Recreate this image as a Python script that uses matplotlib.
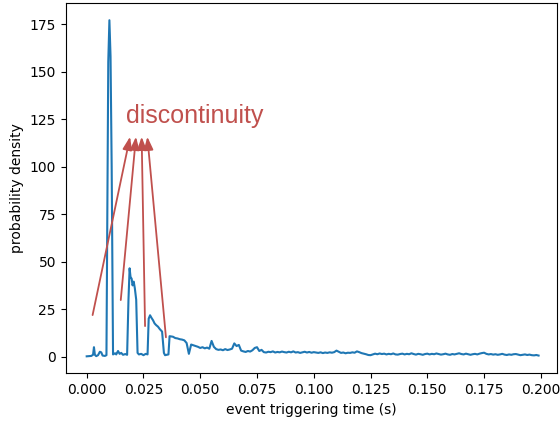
"""
Probability density of the event triggering time, with the discontinuities marked.
Output: out.png (560x423)
"""
import numpy as np
import matplotlib

matplotlib.use("Agg")
import matplotlib.pyplot as plt  # noqa: E402

# head of the curve: spike, three plateaus, gaps between them
head_t = [0.0000, 0.0010, 0.0020, 0.0028, 0.0032, 0.0036, 0.0042, 0.0050, 0.0058,
          0.0064, 0.0070, 0.0080, 0.0087, 0.0092, 0.0095, 0.0100, 0.0105, 0.0110,
          0.0116, 0.0125, 0.0130, 0.0138, 0.0145, 0.0152, 0.0160, 0.0170, 0.0178,
          0.0184, 0.0189, 0.0193, 0.0198, 0.0202, 0.0207, 0.0212, 0.0218, 0.0224,
          0.0230, 0.0240, 0.0250, 0.0260, 0.0268, 0.0273, 0.0279, 0.0285, 0.0292,
          0.0299, 0.0306, 0.0314, 0.0322, 0.0332, 0.0340, 0.0345, 0.0352, 0.0360,
          0.0365]
head_p = [0.2, 0.3, 0.4, 1.0, 5.0, 1.0, 0.3, 0.8, 2.6,
          2.3, 0.6, 0.4, 0.8, 100, 155, 177, 158, 100,
          1.2, 1.8, 1.2, 3.0, 1.5, 2.0, 1.0, 1.4, 1.0,
          30, 46.5, 42, 41, 37.5, 39.5, 36, 30, 2.0,
          1.2, 1.5, 0.8, 1.5, 1.2, 20, 21.8, 20.5, 19.2,
          17.5, 16.6, 15.8, 14.5, 13.2, 2.0, 0.8, 1.0, 1.2,
          10.8]

# tail of the curve, one value per ms from 37 ms to 199 ms
tail_t0, tail_dt = 0.037, 0.001
tail_p = [10.8, 10.5, 9.8, 9.6, 9.2, 9.0, 8.6, 7.2, 1.5, 6.4,
          6.0, 5.6, 5.2, 4.6, 5.0, 4.4, 4.8, 4.2, 8.3, 5.2,
          4.0, 3.6, 3.8, 3.4, 4.0, 3.5, 3.8, 4.2, 7.0, 5.6,
          6.2, 3.2, 2.8, 2.5, 3.0, 2.7, 3.4, 4.6, 5.0, 3.0,
          3.6, 2.4, 2.2, 2.6, 2.4, 2.8, 2.2, 2.5, 2.3, 2.7,
          2.4, 2.2, 2.6, 2.3, 2.8, 2.2, 2.4, 2.0, 2.3, 2.6,
          2.2, 2.5, 2.1, 2.4, 2.2, 2.0, 2.3, 1.9, 2.2, 2.0,
          2.3, 2.1, 2.4, 3.2, 2.6, 2.0, 2.2, 1.8, 2.1, 2.0,
          2.3, 2.1, 2.8, 2.4, 1.9, 1.6, 1.3, 0.9, 0.8, 1.2,
          1.6, 1.3, 1.7, 1.4, 1.6, 1.2, 1.5, 1.3, 1.7, 1.2,
          1.1, 1.4, 1.6, 1.2, 1.5, 1.3, 1.8, 1.4, 1.1, 1.5,
          1.3, 1.0, 1.4, 1.6, 1.2, 1.5, 1.3, 1.7, 1.4, 1.1,
          1.3, 1.6, 1.2, 1.0, 1.4, 1.2, 1.5, 1.8, 1.4, 1.2,
          1.6, 1.3, 1.0, 1.3, 1.5, 1.2, 1.6, 1.9, 2.1, 1.5,
          1.2, 1.4, 1.1, 1.3, 1.0, 1.2, 1.5, 1.1, 0.9, 1.2,
          1.0, 1.3, 1.4, 1.1, 0.8, 1.0, 1.2, 0.9, 1.1, 0.8,
          0.7, 0.9, 0.6]

# annotation: label position, arrow tails (on the curve) and tips (under the label)
LABEL = "discontinuity"
label_xy = (0.0173, 122.8)
arrow_tails = [(0.0026, 21.9), (0.0150, 29.8), (0.0257, 16.1), (0.0349, 10.2)]
arrow_tips = [(0.0191, 115.7), (0.0217, 115.7), (0.0242, 115.7), (0.0267, 115.7)]

ANNOT_COLOR = "#c0504d"


def main():
    tail_t = tail_t0 + tail_dt * np.arange(len(tail_p))
    t = np.concatenate([head_t, tail_t[1:]])
    p = np.concatenate([head_p, tail_p[1:]])

    fig = plt.figure(figsize=(5.6, 4.23), dpi=100)
    ax = fig.add_axes([0.1173, 0.1175, 0.8765, 0.8747])
    ax.plot(t, p, color="#1f77b4", lw=1.5)

    ax.set_xlim(-0.00925, 0.2069)
    ax.set_ylim(-8.73, 185.9)
    ax.set_xticks(np.arange(0, 0.2001, 0.025))
    ax.set_xlabel("event triggering time (s)")
    ax.set_ylabel("probability density")

    ax.text(*label_xy, LABEL, color=ANNOT_COLOR, fontsize=18,
            family=["Liberation Sans", "DejaVu Sans"], ha="left", va="baseline")
    for tail, tip in zip(arrow_tails, arrow_tips):
        ax.annotate("", xy=tip, xytext=tail,
                    arrowprops=dict(arrowstyle="-|>,head_length=0.55,head_width=0.2",
                                    mutation_scale=14, color=ANNOT_COLOR, lw=1.3,
                                    shrinkA=0, shrinkB=0))

    fig.savefig("out.png", dpi=100)
    plt.close(fig)


if __name__ == "__main__":
    main()
